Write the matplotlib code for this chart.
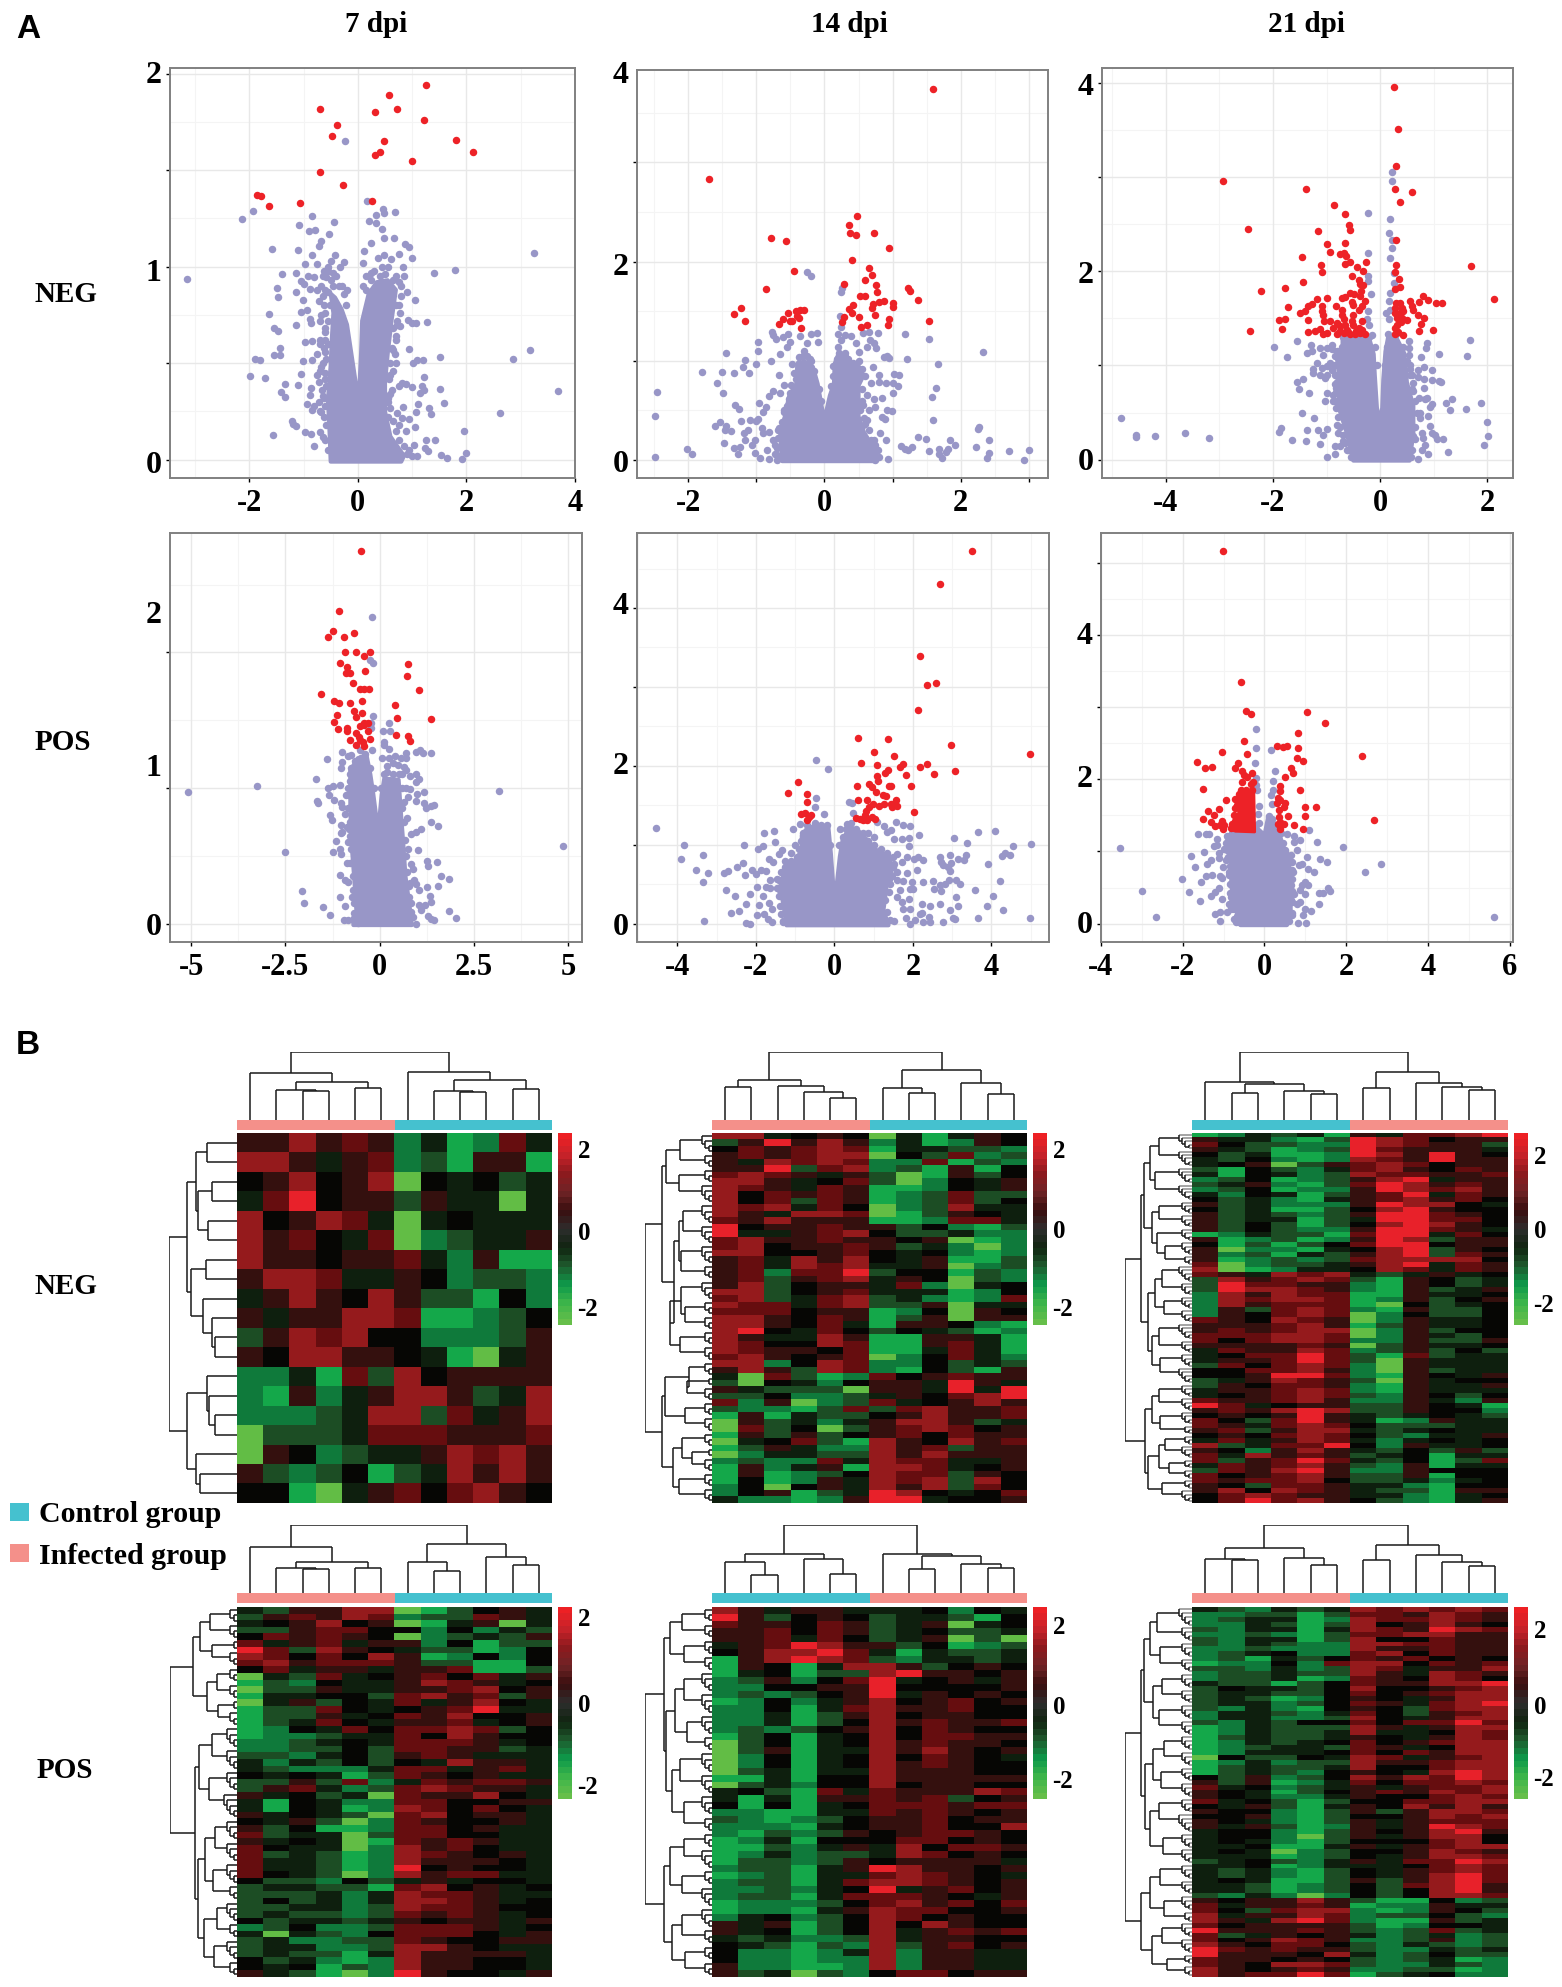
import numpy as np
import matplotlib
matplotlib.use("Agg")
import matplotlib.pyplot as plt
from matplotlib.colors import ListedColormap, LinearSegmentedColormap
from matplotlib.patches import Rectangle

W, H = 1562, 1987
SERIF = "Liberation Serif"
SANS = "Liberation Sans"
BLUE = "#9896C7"
RED = "#ED2227"
TEAL = "#45C1CF"
PINK = "#F4908A"

# ---------- volcano data: (log2FC, -log10 p) ----------
neg7_red = [(1.26,1.94),(.57,1.89),(.73,1.82),(.31,1.80),(-.70,1.82),(1.21,1.76),(-.39,1.735),(-.47,1.68),(.49,1.65),(1.81,1.655),(2.12,1.595),(.40,1.593),(.32,1.58),(1.0,1.547),(-.69,1.493),(-.27,1.422),(-1.86,1.372),(-1.78,1.367),(-1.64,1.317),(-1.06,1.33),(.26,1.343)]
neg7_blue = [(-.24,1.652),(.16,1.343),(-1.94,1.29),(-2.13,1.246),(-.84,1.263),(-.43,1.232),(-1.08,1.215),(-.9,1.187),(-.78,1.189),(-.54,1.171),(.46,1.298),(.69,1.285),(.33,1.266),(.49,1.277),(.21,1.237),(.33,1.228),(.44,1.197),(.49,1.15),(.66,1.147),(.24,1.123),(.86,1.12),(.94,1.104),(1.0,1.043),(.76,1.064),(.61,1.04),(.38,1.045),(.49,1.059),(.11,1.08),(.1,1.02),(1.41,.967),(1.79,.983),(3.24,1.069),(-3.14,.938),(-1.59,1.09),(-1.11,1.087),(-.68,1.133),(-.71,1.107),(-.84,1.059),(-.98,1.016),(-.76,1.016),(-.42,1.06),(-.26,1.022),(-1.4,.962),(-1.13,.97),(-.91,.953),(-.8,.948),(-.59,.948),(-1.05,.926),(-1,.912),(-1.48,.888),(-1.47,.844),(-1.14,.87),(-.89,.886),(-1.01,.829),(-1.64,.753),(-1.04,.765),(-.94,.778),(-.89,.73),(-1.55,.682),(-1.47,.666),(-1.13,.70),(-.87,.706),(-.97,.611),(-.84,.616),(-1.44,.581),(-1.54,.545),(-1.44,.54),(-1.9,.522),(-1.81,.519),(-1.01,.512),(-.84,.516),(-1.99,.436),(-1.71,.422),(-1.05,.446),(-.76,.438),(-1.34,.393),(-1.11,.388),(-1.41,.349),(-1.34,.325),(-.87,.372),(-.89,.337),(-.93,.291),(-.8,.28),(-.85,.256),(-.67,.246),(-1.22,.199),(-1.19,.185),(-1.14,.175),(-1.56,.13),(-.98,.144),(-.86,.135),(-.81,.073),(-.7,.144),(1.06,.825),(.91,.87),(.92,.723),(.99,.709),(1.08,.706),(1.27,.711),(.77,.692),(.94,.576),(1.52,.533),(1.01,.502),(1.09,.516),(1.2,.517),(2.86,.524),(3.18,.569),(3.68,.358),(1.22,.431),(.82,.396),(.89,.391),(1,.379),(1.19,.384),(1.21,.363),(1.15,.346),(1.51,.367),(1.59,.296),(1.31,.268),(1.34,.235),(1.11,.287),(1.07,.246),(.84,.273),(.72,.242),(2.61,.24),(.81,.215),(.95,.213),(1.06,.17),(.89,.15),(1.96,.147),(1.43,.102),(1.26,.1),(1.03,.078),(1.23,.06),(1.29,.043),(1.54,.022),(1.65,.007),(2.0,.036),(1.91,.003),(1.09,.017),
 (-.62,.98),(-.55,1.0),(-.5,1.03),(-.45,.97),(-.33,1.0),(-.68,.9),(-.6,.88),(-.72,.82),(-.62,.8),(-.7,.72),(-.6,.66),(-.7,.62),(-.6,.56),(-.65,.5),(-.7,.46),(-.6,.42),(-.66,.36),(-.62,.32),(-.72,.3),(-.6,.62),(-.35,.9),(-.2,.88),(-.22,.8),(.15,.88),(.25,.97),(.45,1.0),(.55,1.0),(.7,.95),(.8,.9),(.85,.95),(.83,1.0),(.75,.8),(.72,.7),(.7,.62),(.65,.57),(.7,.5),(.6,.44),(.75,.38),(.6,.34),(.55,.3),(.75,.18),(.6,.05)]
neg7_edge = [(-.55,.05),(-.6,.1),(-.65,.12),(-.58,.18),(-.62,.22),(-.7,.25),(-.6,.28),(-.65,.33),(-.58,.38),(-.72,.4),(-.6,.45),(-.68,.48),(-.58,.52),(-.75,.55),(-.62,.58),(-.55,.6),(-.7,.6),(-.6,.68),(-.55,.72),(-.68,.75),(-.6,.76),(-.52,.8),(-.65,.85),(-.55,.87),(-.45,.9),(-.75,.88),(-.5,.93),(-.4,.95),(-.3,.9),(-.25,.86),(-.65,.95),(-.55,.98),(.1,.9),(.15,.95),(.25,.93),(.3,.98),(.4,.95),(.5,.96),(.65,.93),(.75,.92),(.8,.85),(.7,.8),(.78,.76),(.72,.72),(.65,.68),(.7,.64),(.62,.58),(.68,.55),(.6,.5),(.65,.46),(.58,.42),(.62,.36),(.55,.32),(.6,.27),(.55,.22),(.65,.2),(.7,.15),(.75,.1),(.85,.07),(.95,.05),(1.0,.02),(.7,.04),(.6,.09),(.9,.03)]
neg7_core = [(-.5,-.01),(-.52,.14),(-.55,.31),(-.5,.49),(-.48,.62),(-.45,.76),(-.5,.86),(-.42,.84),(-.3,.78),(-.2,.7),(-.12,.55),(-.03,.38),(.03,.38),(.06,.55),(.08,.72),(.2,.86),(.35,.92),(.55,.93),(.7,.88),(.62,.72),(.55,.55),(.5,.4),(.5,.25),(.6,.12),(.85,.02),(.8,-.01)]

neg14_red = [(1.60,3.74),(-1.69,2.83),(.48,2.46),(.36,2.37),(.38,2.29),(.46,2.27),(.73,2.29),(-.79,2.24),(-.57,2.21),(.95,2.14),(.40,2.02),(-.45,1.91),(.66,1.94),(.70,1.86),(.60,1.81),(.29,1.77),(.75,1.76),(-.86,1.72),(1.23,1.73),(1.25,1.70),(.77,1.69),(.52,1.65),(.60,1.65),(1.37,1.61),(.88,1.605),(.80,1.59),(.71,1.57),(1.0,1.585),(1.01,1.54),(.70,1.53),(.42,1.565),(.36,1.52),(.40,1.48),(-1.22,1.535),(-1.33,1.47),(-1.16,1.405),(-.53,1.48),(-.42,1.505),(-.36,1.515),(-.30,1.51),(-.40,1.45),(-.37,1.43),(-.61,1.42),(-.67,1.37),(-.51,1.40),(-.48,1.40),(-.35,1.33),(.28,1.445),(.26,1.395),(.50,1.44),(.74,1.465),(.95,1.42),(.93,1.36),(1.54,1.405),(.62,1.365),(.53,1.34)]
neg14_blue = [(-.25,1.90),(-.2,1.85),(.26,1.73),(.24,1.69),(.23,1.45),(.25,1.34),(-.77,1.29),(-.75,1.26),(-.71,1.22),(-.98,1.19),(-.97,1.10),(-1.44,1.08),(-.65,1.07),(-.79,1.0),(-1.17,1.01),(-1.2,.94),(-1.0,.97),(-1.11,.88),(-1.32,.88),(-1.51,.89),(-1.8,.886),(-1.58,.776),(-1.49,.676),(-2.46,.686),(-2.48,.44),(-2.48,.03),(-2.02,.11),(-1.94,.064),(-1.31,.56),(-1.26,.515),(-.96,.58),(-1.61,.344),(-1.53,.38),(-1.45,.34),(-1.46,.30),(-1.37,.29),(-1.47,.174),(-1.33,.12),(-1.24,.137),(-1.27,.057),(-1.22,.395),(-1.09,.405),(-1.01,.39),(-.97,.41),(-1.12,.30),(-1.18,.274),(-1.16,.2),(-1.02,.207),(-1.06,.157),(-1.02,.074),(-.91,.32),(-.9,.274),(-.82,.288),(-.95,.017),(-.82,.013),(-.7,.003),(-.9,.48),(-.86,.54),(-.82,.65),(-.76,.70),(-.66,.86),(-.6,.76),(-.49,.76),(-.65,.675),(-.61,1.24),(-.53,1.27),(-.51,1.19),(-.36,1.25),(-.55,1.14),(-.2,1.27),(-.11,1.28),(-.09,1.19),(-.26,1.18),(-.3,1.10),(-.38,1.04),(-.21,1.02),(-.48,.97),(.2,1.27),(.3,1.26),(.39,1.25),(.57,1.28),(.66,1.29),(.78,1.28),(1.18,1.27),(1.53,1.22),(2.32,1.09),(.67,1.21),(.73,1.18),(.76,1.13),(.62,1.14),(.24,1.21),(.2,1.14),(.47,1.18),(.5,1.09),(.87,1.04),(.92,1.05),(.95,1.03),(1.21,1.02),(1.66,.97),(.71,.94),(.8,.86),(1.02,.87),(1.1,.86),(.68,.776),(.8,.79),(.9,.776),(1.01,.78),(1.08,.75),(1.01,.676),(1.64,.73),(1.58,.64),(1.59,.405),(.84,.625),(.74,.535),(.92,.51),(.99,.49),(.84,.435),(.89,.41),(.62,.66),(.57,.56),(.55,.34),(.81,.27),(.9,.207),(1.38,.234),(1.49,.217),(1.84,.207),(1.92,.15),(1.13,.14),(1.18,.117),(1.28,.13),(1.23,.107),(1.54,.087),(1.68,.114),(1.68,.057),(1.72,.017),(1.82,.117),(1.78,.08),(2.27,.33),(2.25,.314),(2.42,.204),(2.23,.13),(2.42,.07),(2.39,.02),(2.71,.097),(2.93,.003),(3.0,.1),(.93,.013),(.74,.003),(.74,.157),(.62,.124),(.52,.074),(-.7,.12),(-.75,.2),(-.68,.3),(-.72,.06),(-.6,.5),(-.85,.1),(.68,.2),(.7,.1),(.62,.4),(.66,.5),(.72,.62)]
neg14_edge = [(-.7,.05),(-.72,.15),(-.68,.22),(-.66,.32),(-.62,.38),(-.6,.48),(-.55,.55),(-.52,.62),(-.5,.68),(-.45,.72),(-.42,.82),(-.45,.88),(-.38,.98),(-.32,1.05),(-.25,1.05),(-.2,1.0),(-.15,.9),(-.08,.72),(-.05,.6),(.1,.75),(.12,.85),(.13,.95),(.18,1.02),(.22,1.08),(.3,1.08),(.35,1.02),(.42,.98),(.5,1.0),(.55,.92),(.6,.85),(.55,.72),(.55,.6),(.52,.5),(.58,.42),(.6,.36),(.66,.3),(.72,.2),(.78,.1),(.8,.03)]
neg14_core = [(-.62,-.01),(-.65,.28),(-.58,.44),(-.52,.64),(-.41,.77),(-.4,.94),(-.3,1.0),(-.17,.94),(-.1,.77),(-.03,.5),(0,.38),(.03,.5),(.08,.65),(.14,.77),(.15,.97),(.2,1.06),(.33,1.05),(.38,.95),(.5,.95),(.57,.85),(.5,.75),(.5,.44),(.58,.28),(.76,.08),(.76,-.01)]

neg21_red = [(.25,3.96),(.34,3.51),(.30,3.12),(-2.94,2.96),(-1.38,2.87),(.27,2.88),(.6,2.84),(.38,2.74),(-.86,2.71),(-.65,2.61),(-.58,2.49),(-.56,2.44),(-1.15,2.43),(-2.46,2.45),(.29,2.33),(-.66,2.30),(-1.0,2.29),(-.93,2.21),(-.75,2.18),(-.67,2.19),(-.63,2.16),(-1.45,2.15),(-.57,2.10),(-.66,2.08),(-.27,2.10),(-1.11,2.07),(.3,2.07),(-.43,2.05),(-.32,2.0),(1.7,2.06),(.28,1.99),(-1.09,1.99),(-.53,1.95),(-.39,1.91),(.36,1.92),(-1.44,1.89),(-.37,1.87),(-.31,1.85),(-1.78,1.82),(-2.22,1.79),(.27,1.81),(.37,1.83),(-.36,1.79),(-.56,1.77),(-.48,1.76),(-.65,1.73),(-.71,1.72),(-.37,1.74),(-1.18,1.71),(-.99,1.72),(.8,1.74),(.89,1.70),(.73,1.67),(.56,1.68),(1.04,1.66),(1.16,1.66),(2.13,1.71),(-.28,1.69),(-.53,1.67),(-.34,1.63),(-.5,1.64),(-.4,1.59),(-1.27,1.65),(-1.34,1.63),(-1.4,1.58),(-1.49,1.56),(-1.09,1.63),(-1.09,1.58),(-1.71,1.62),(-.83,1.63),(-1.06,1.54),(-.71,1.59),(-.71,1.54),(-.5,1.54),(.3,1.66),(.37,1.66),(.28,1.61),(.4,1.61),(.28,1.56),(.37,1.56),(.43,1.58),(.31,1.5),(.4,1.5),(.5,1.48),(.31,1.43),(.39,1.46),(.59,1.63),(.62,1.59),(.71,1.54),(.82,1.5),(.76,1.44),(.99,1.38),(.73,1.37),(.42,1.32),(.28,1.4),(.34,1.36),(.28,1.33),(-1.88,1.48),(-1.77,1.49),(-1.84,1.39),(-1.35,1.48),(-1.35,1.36),(-2.42,1.37),(-1.04,1.47),(-.93,1.47),(-.81,1.45),(-.68,1.49),(-.53,1.47),(-.34,1.47),(-.87,1.4),(-.75,1.42),(-.65,1.43),(-.5,1.43),(-.4,1.4),(-1.21,1.37),(-1.13,1.39),(-.99,1.35),(-1.06,1.33),(-.81,1.33),(-.68,1.345),(-.56,1.33),(-.47,1.335),(-.37,1.35),(-.28,1.33),(-.62,1.38),(-.34,1.38),(-.75,1.37),(-.6,1.36),(-.45,1.37)]
neg21_blue = [(.23,3.06),(.23,2.96),(-.22,2.62),(.19,2.56),(.16,2.41),(.23,2.33),(.23,2.25),(-.22,2.19),(.19,2.14),(-.22,1.95),(-.22,1.9),(-.17,1.76),(.25,1.98),(.25,1.88),(.19,1.77),(.16,1.68),(.11,1.56),(.16,1.49),(.19,1.59),(-.22,1.58),(-.25,1.49),(-.2,1.43),(-.16,1.32),(-4.84,.44),(-4.55,.265),(-4.55,.24),(-4.21,.255),(-3.65,.28),(-3.2,.227),(-1.98,1.2),(-1.56,1.26),(-1.73,1.09),(-1.29,1.22),(-1.37,1.13),(-1.27,1.15),(-1.12,1.19),(-.99,1.19),(-.9,1.17),(-1.06,1.115),(-1.18,1.03),(-1.26,.96),(-1.26,.92),(-1.09,.97),(-.99,.99),(-.93,1.03),(-1.12,.9),(-1.02,.87),(-.99,.9),(-1.55,.83),(-1.43,.86),(-1.52,.75),(-1.33,.71),(-.81,.83),(-.83,.76),(-.99,.71),(-.87,.69),(-1.02,.62),(-.87,.62),(-1.45,.5),(-1.24,.44),(-1.85,.336),(-1.88,.294),(-1.37,.32),(-1.16,.31),(-1,.33),(-1.65,.21),(-1.39,.2),(-1.06,.26),(-1.12,.163),(-.99,.025),(-.81,.37),(-.78,.28),(-.84,.14),(-.84,.06),(.53,1.26),(.87,1.24),(.85,1.19),(.53,1.19),(.53,1.115),(.76,1.09),(1.1,1.125),(1.67,1.27),(1.63,1.1),(.7,.95),(.82,.98),(.96,.95),(.56,.96),(1.09,.84),(1.14,.825),(.81,.86),(.71,.88),(.62,.81),(.96,.85),(.81,.76),(.62,.73),(.84,.64),(.88,.655),(.73,.655),(1.35,.64),(1.23,.605),(.96,.595),(1.3,.53),(1.6,.54),(1.89,.605),(.75,.495),(.93,.56),(.9,.467),(.75,.44),(.93,.354),(.96,.283),(1.02,.265),(1.06,.22),(1.17,.22),(2.0,.4),(2.01,.25),(1.93,.152),(1.27,.08),(.9,.057),(.84,.152),(.78,.106),(.71,.007),(.78,.28),(.8,.23),(.62,.25),(-.9,1.22),(-.8,1.15),(-.85,1.1),(.55,1.0),(.6,.9),(-.9,.95),(-.85,.9),(-.7,.2),(-.75,.15),(-.6,.1)]
neg21_edge = [(-.55,.03),(-.62,.1),(-.65,.18),(-.7,.26),(-.75,.35),(-.78,.45),(-.82,.55),(-.85,.62),(-.82,.72),(-.85,.8),(-.82,.9),(-.85,1.0),(-.78,1.08),(-.72,1.2),(-.7,1.3),(-.55,1.32),(-.4,1.32),(-.2,1.3),(-.1,1.2),(-.06,1.0),(.1,1.0),(.12,1.2),(.15,1.33),(.3,1.33),(.42,1.2),(.5,1.05),(.55,.9),(.6,.75),(.65,.62),(.68,.5),(.66,.35),(.65,.22),(.6,.1),(.58,.03)]
neg21_core = [(-.5,-.01),(-.62,.28),(-.78,.57),(-.75,.81),(-.8,1.06),(-.7,1.15),(-.7,1.28),(-.4,1.31),(-.2,1.28),(-.12,1.12),(-.1,.9),(-.06,.55),(0,.4),(.04,.55),(.06,.85),(.1,1.15),(.15,1.3),(.3,1.3),(.45,1.13),(.5,.82),(.62,.57),(.62,.28),(.55,-.01)]

pos7_red = [(-.49,2.75),(-1.07,2.305),(-1.25,2.16),(-1.36,2.11),(-.96,2.11),(-.68,2.14),(-.93,2.0),(-.62,2.0),(-.27,2.0),(-.43,1.97),(-1.06,1.92),(-.88,1.89),(-.9,1.845),(-.79,1.85),(-.4,1.865),(.74,1.915),(.71,1.825),(1.04,1.725),(-.71,1.775),(-.53,1.73),(-.43,1.727),(-.28,1.73),(-1.55,1.69),(-1.21,1.64),(-1.09,1.63),(-.79,1.625),(-.47,1.643),(.41,1.614),(-.69,1.57),(-1.14,1.54),(-.47,1.55),(-.63,1.52),(.45,1.513),(1.36,1.51),(-1.2,1.486),(-.41,1.48),(-.3,1.48),(-.53,1.46),(-.43,1.464),(-1.11,1.437),(-.87,1.44),(-.87,1.42),(-.3,1.42),(-.63,1.407),(.43,1.392),(.75,1.385),(-.56,1.378),(-.78,1.353),(-.53,1.353),(-.26,1.363),(-.45,1.34),(.8,1.348),(-.63,1.316),(-.43,1.31)]
pos7_blue = [(-.21,2.26),(-.25,1.943),(-.18,1.92),(-.19,1.53),(-.22,1.476),(-.22,1.44),(.25,1.478),(.08,1.417),(.26,1.422),(.1,1.343),(.12,1.32),(.24,1.29),(-1,1.267),(-.53,1.28),(-.2,1.284),(-1.39,1.213),(1.06,1.284),(.95,1.262),(1.14,1.255),(1.35,1.26),(.69,1.255),(-.83,1.235),(-.75,1.242),(-.99,1.193),(-1.04,1.144),(.06,1.225),(.24,1.225),(.41,1.235),(.57,1.225),(.69,1.218),(.18,1.161),(.34,1.181),(.49,1.168),(.64,1.156),(.69,1.132),(-1.7,1.063),(-1.36,1.0),(-1.24,1.013),(-1.06,1.02),(-3.25,1.016),(-5.07,.972),(3.17,.977),(4.86,.576),(-2.51,.529),(.95,1.107),(.81,1.09),(1.05,1.07),(.95,1.045),(1.18,.969),(.79,.996),(.98,.959),(.74,.935),(.95,.903),(1.18,.886),(1.22,.856),(1.35,.866),(1.44,.873),(-1.67,.903),(-1.65,.886),(-1.34,.947),(-1.22,.91),(-1.04,.886),(-.99,.861),(-1.32,.8),(-1.27,.768),(-.93,.812),(-1.04,.726),(-.99,.677),(-1.04,.669),(-.88,.713),(-1.17,.61),(-1.06,.554),(-1.23,.526),(-1.04,.512),(-.88,.45),(1.36,.75),(1.55,.72),(1.1,.7),(.95,.677),(.84,.664),(1,.546),(1.24,.462),(1.28,.423),(1.51,.453),(.84,.443),(.89,.406),(1.62,.352),(1.84,.327),(1.55,.278),(1.26,.268),(1.05,.251),(.91,.325),(.97,.29),(1.32,.202),(1.37,.16),(1.05,.135),(1.2,.14),(1.1,.103),(1.28,.054),(1.35,.037),(1.45,.025),(1.83,.091),(2.03,.039),(-1.05,.359),(-.93,.325),(-.83,.307),(-1.06,.197),(-.93,.13),(-.73,.197),(-1.5,.123),(-1.32,.064),(-2.06,.244),(-2,.153),(-.96,.025),(-.83,.025),(-.68,.044),(-.58,.007),(.95,0),(.84,.086),(.74,.172),(-.8,1.1),(-.85,1.0),(-.9,.95),(-.85,.85),(-.82,.7),(-.85,.6),(.6,1.1),(.7,1.0),(.65,.9),(.72,.78),(.75,.55),(.8,.3),(.78,.2)]
pos7_edge = [(-.72,.03),(-.68,.08),(-.68,.15),(-.72,.25),(-.72,.35),(-.78,.45),(-.75,.55),(-.8,.65),(-.8,.75),(-.82,.85),(-.82,.95),(-.8,1.05),(-.75,1.15),(-.65,1.2),(-.5,1.22),(-.38,1.25),(-.25,1.15),(-.15,1.0),(.03,1.0),(.1,1.1),(.2,1.12),(.35,1.1),(.5,1.1),(.58,1.0),(.58,.85),(.65,.75),(.68,.62),(.7,.5),(.72,.38),(.78,.28),(.82,.15),(.88,.05)]
pos7_core = [(-.7,-.01),(-.62,.1),(-.68,.35),(-.75,.6),(-.78,.84),(-.78,1.13),(-.58,1.22),(-.35,1.24),(-.25,1.1),(-.17,.95),(-.1,.8),(-.05,.58),(0,.5),(0,.8),(.05,.95),(.12,1.07),(.5,1.06),(.55,.85),(.62,.6),(.68,.35),(.78,.15),(.85,-.01)]

pos14_red = [(3.51,4.72),(2.70,4.30),(2.18,3.39),(2.37,3.02),(2.60,3.05),(2.14,2.71),(.6,2.355),(1.36,2.335),(2.97,2.266),(4.99,2.15),(1,2.18),(1.51,2.12),(.67,2.04),(1.09,2.01),(1.66,1.99),(1.75,2.02),(2.17,1.98),(2.36,2.02),(1.37,1.945),(1.29,1.91),(1.82,1.886),(2.54,1.9),(3.07,1.93),(1.09,1.873),(1.12,1.814),(.58,1.742),(.88,1.776),(.95,1.734),(1.06,1.674),(1.38,1.75),(1.44,1.746),(1.96,1.746),(-.92,1.793),(-1.18,1.662),(-.71,1.64),(-.7,1.548),(1.24,1.632),(1.32,1.615),(.6,1.573),(.82,1.573),(1.58,1.573),(.98,1.514),(1.13,1.497),(1.27,1.514),(1.44,1.522),(1.59,1.488),(1.46,1.48),(.87,1.48),(2.03,1.416),(.81,1.425),(.78,1.374),(-.85,1.39),(-.74,1.404),(-.59,1.374),(-.64,1.353),(-.71,1.32),(.54,1.345),(.66,1.332),(.74,1.32),(.84,1.31),(.97,1.353),(1.04,1.332)]
pos14_blue = [(-.48,2.08),(-.16,1.958),(-.48,1.594),(-.49,1.476),(-.26,1.387),(.37,1.543),(.46,1.535),(.47,1.404),(-4.55,1.213),(-3.84,1.0),(-3.36,.875),(-3.9,.825),(-3.52,.68),(-3.22,.647),(-3.36,.529),(-2.3,1.0),(-2.72,.672),(-2.81,.643),(-2.49,.719),(-2.34,.765),(-2.11,.685),(-2.28,.62),(-1.8,1.154),(-1.53,1.175),(-1.51,1.04),(-1.83,.98),(-1.95,.951),(-1.34,.93),(-1.41,.888),(-.91,.951),(-1.05,1.197),(-.88,1.268),(-1.66,.825),(-1.56,.778),(-1.87,.685),(-1.73,.668),(-2,.626),(-2.76,.427),(-2.52,.347),(-2.24,.254),(-2.64,.135),(-2.44,.165),(-3.32,.034),(-2.15,.38),(-1.97,.465),(-1.81,.351),(-1.73,.465),(-1.64,.558),(-1.63,.452),(-1.93,.233),(-1.98,.106),(-1.8,.118),(-1.66,.262),(-1.6,.182),(-2.26,.008),(-2.14,0),(-1.68,.063),(-1.6,.02),(-1.3,.02),(-1.47,.57),(-1.39,.423),(-1.3,.338),(.14,1.197),(.31,1.268),(1.08,1.29),(1.27,1.24),(1.56,1.29),(1.76,1.256),(1.93,1.235),(2.15,1.12),(1.34,1.163),(1.44,1.184),(1.89,1.09),(1.91,.98),(1.51,1.07),(1.72,1.074),(3.06,1.09),(3.66,1.163),(4.1,1.175),(3.37,1.023),(5,1.006),(4.54,.98),(1.59,.888),(1.85,.846),(2.02,.825),(2.14,.846),(2.27,.803),(1.72,.782),(1.51,.761),(2.7,.846),(2.94,.871),(2.72,.782),(2.78,.74),(2.89,.719),(2.97,.774),(2.95,.668),(3.35,.871),(3.31,.803),(3.14,.825),(4.28,.854),(4.36,.896),(4.48,.871),(3.91,.761),(2.11,.68),(1.59,.655),(1.85,.643),(1.38,.571),(1.59,.55),(1.76,.541),(1.97,.529),(2.26,.524),(2.51,.541),(2.91,.558),(3.09,.558),(3.19,.507),(2.68,.486),(2.83,.499),(2.53,.436),(2.72,.414),(4.22,.537),(3.59,.427),(4.04,.347),(3.1,.338),(1.68,.423),(1.93,.444),(2,.444),(1.91,.309),(1.72,.275),(1.59,.338),(2.23,.245),(2.44,.224),(2.68,.254),(3.14,.22),(3.89,.224),(4.3,.173),(2.94,.173),(1.93,.19),(1.76,.19),(2.23,.135),(2.19,.118),(2.4,.085),(2.44,.02),(2.25,.017),(2.06,.042),(1.82,.076),(1.93,0),(2.78,.025),(3.02,.068),(3.08,.059),(3.65,.068),(4.98,.072),(1.52,.034)]
pos14_edge = [(-1.3,.03),(-1.35,.12),(-1.38,.22),(-1.42,.35),(-1.45,.45),(-1.4,.55),(-1.35,.65),(-1.25,.72),(-1.25,.8),(-1.1,.8),(-.95,.85),(-.88,.95),(-.85,1.05),(-.8,1.15),(-.7,1.25),(-.5,1.27),(-.35,1.25),(-.2,1.25),(-.1,1.0),(.12,1.0),(.22,1.1),(.3,1.2),(.42,1.28),(.55,1.2),(.72,1.15),(.85,1.05),(1.0,1.0),(1.2,.95),(1.35,.9),(1.5,.85),(1.5,.72),(1.48,.6),(1.42,.5),(1.38,.4),(1.3,.3),(1.35,.15),(1.42,.05),(1.0,1.1),(.85,1.15),(-1.1,.9),(-1.0,1.0)]
pos14_core = [(-1.22,-.02),(-1.3,.25),(-1.39,.46),(-1.22,.76),(-1.05,.76),(-.83,.93),(-.83,1.12),(-.66,1.23),(-.15,1.21),(-.09,.89),(-.03,.49),(.06,.49),(.14,.85),(.21,1.06),(.4,1.23),(.65,1.16),(1.08,.93),(1.42,.85),(1.46,.63),(1.33,.47),(1.25,.17),(1.38,-.02)]

pos21_red = [(-1.02,5.16),(-.57,3.34),(-.45,2.94),(-.32,2.91),(1.04,2.93),(1.49,2.78),(.82,2.64),(-.51,2.53),(.31,2.46),(.45,2.45),(.54,2.465),(.82,2.43),(-1.03,2.38),(-.44,2.345),(2.38,2.32),(.79,2.3),(.94,2.25),(-1.66,2.24),(-1.45,2.15),(-1.28,2.165),(-.65,2.225),(-.73,2.156),(-.54,2.11),(-.3,2.087),(.64,2.156),(.69,2.087),(.51,2.03),(-.51,2.055),(-.42,2.03),(-.55,1.967),(-.34,1.94),(-.29,1.96),(.37,1.907),(.37,1.837),(-1.5,1.865),(.87,1.847),(.34,1.745),(.38,1.717),(.31,1.67),(.51,1.676),(-.95,1.717),(1,1.616),(1.25,1.61),(.47,1.616),(-1.39,1.56),(-1.12,1.584),(-1.24,1.505),(-1.5,1.445),(-1.31,1.404),(.98,1.496),(.58,1.49),(.35,1.477),(.36,1.57),(2.67,1.43),(-1.22,1.348),(-1.03,1.42),(-1.1,1.362),(-1,1.362),(-.8,1.376),(.39,1.408),(.47,1.385),(.33,1.385),(.38,1.316),(.72,1.362),(.95,1.316),(-1.02,1.307),(-.81,1.325),(-.72,1.72),(-.62,1.8),(-.72,1.6),(-.74,1.5),(-.72,1.42),(-.75,1.32),(-.58,1.85),(-.45,1.85),(-.3,1.85),(-.68,1.65)]
pos21_red_block = [(-.69,1.71),(-.55,1.82),(-.26,1.82),(-.24,1.27),(-.71,1.28),(-.75,1.36),(-.63,1.54)]
pos21_blue = [(-.22,2.696),(-.22,2.433),(-.23,2.23),(.17,2.405),(.26,2.114),(-.21,2.018),(-.2,1.916),(-.18,1.847),(.2,1.976),(.22,1.847),(.16,1.787),(.19,1.653),(-.14,1.625),(-.15,1.514),(-.14,1.394),(.11,1.49),(.15,1.408),(-3.54,1.053),(-2.99,.452),(-2.65,.097),(-1.62,1.237),(-1.44,1.237),(-1.36,1.237),(-1.48,.988),(-1.79,.933),(-1.69,.79),(-1.4,.831),(-1.31,.877),(-2.03,.614),(-1.84,.434),(-1.56,.577),(-1.44,.656),(-1.28,.674),(-1.57,.31),(-1.16,1.177),(-1.24,1.071),(-1.16,1.085),(-1,1.034),(-1.12,.979),(-1.12,.914),(-.95,.877),(-1.01,.785),(-.87,.716),(-1.08,.656),(-1.04,.637),(-1.12,.499),(-1.2,.439),(-1.31,.379),(-1.05,.346),(-.81,.369),(-.87,.277),(-.79,.286),(-.83,.208),(-1.2,.139),(-1.08,.162),(-.91,.162),(-1.09,.037),(-.75,.069),(-.69,.023),(.56,1.237),(.73,1.21),(.72,1.131),(.86,1.154),(.8,1.025),(1.29,1.131),(1.91,1.062),(1.08,1.293),(1.04,.923),(1.35,.891),(1.53,.849),(2.86,.822),(2.46,.716),(.64,.946),(.68,.854),(.84,.808),(.92,.822),(1.06,.762),(1.21,.72),(.7,.716),(1,.577),(1.07,.54),(.88,.462),(.92,.531),(1.33,.429),(1.43,.425),(1.55,.494),(1.6,.452),(1,.416),(.88,.3),(.8,.277),(1.33,.277),(1,.208),(1.13,.171),(.94,.115),(.82,.014),(1.02,.014),(5.61,.088),(.64,.531),(.72,.416),(.64,.323),(.68,.115)]
pos21_edge = [(-.62,.02),(-.68,.1),(-.75,.2),(-.8,.3),(-.85,.42),(-.85,.55),(-.88,.68),(-.85,.8),(-.9,.92),(-.92,1.02),(-.95,1.12),(-.92,1.22),(-.8,1.26),(-.7,1.26),(-.2,1.36),(.1,1.48),(.18,1.45),(.3,1.35),(.4,1.25),(.45,1.12),(.5,1.02),(.55,.95),(.62,.85),(.68,.75),(.68,.62),(.68,.45),(.68,.3),(.68,.15),(.6,.03)]
pos21_core = [(-.59,-.02),(-.71,.23),(-.81,.51),(-.82,.83),(-.91,1.11),(-.91,1.22),(-.59,1.27),(-.22,1.34),(-.08,1.27),(-.06,1.02),(0,.9),(.02,1.02),(.01,1.25),(.08,1.45),(.19,1.43),(.35,1.29),(.43,1.11),(.6,.88),(.64,.51),(.64,.18),(.55,-.02)]

# ---------- heatmap data: one digit per cell, 0 = strongest green ... 9 = strongest red ----------
heat_neg7 = ["668676241274","886467231661","568568054534","479566364404","856874045444","867547023446","866566742611","688744652332","468658633152","646688711235","368785522236","658866541046","224173856666","216246886348","222348837468","033347776667","065234468786","632351348686","551046757865"]
heat_neg14 = ["884565041465","369686241265","576787144332","676788053723","648787227132","669378231615","787646301635","886457302546","876476112546","857676123733","857376123735","878475023844","864887013654","768666112774","956676635213","944678533422","786676656012","785667634202","885567545212","674868546113","674878446023","672779355132","673678465032","683566472045","883567444125","783478342127","877478336044","777566125065","886576136066","886574166521","895475354312","864486116641","875587116741","876657114741","786567025742","882587225343","686387215316","407312756766","305425664964","643330664949","335223465789","726023745686","322137378667","161433568667","063424688634","073503678756","163635675766","045731865867","136422867366","024433868666","232274877446","162461887456","161235877365","151264878385","250564868375","256134985457","422126994556"]
heat_neg21 = ["124341647789","644213987566","753322987663","643123976664","534112986965","435212876966","456036787566","315324786576","415423877667","235123689466","346213798676","235122698786","425413679476","534214678675","634222698854","534113589655","634323699765","634413499775","635313589865","635322699764","124331799475","612312698366","513135799566","602214589365","623143689376","612323788885","702334689476","801244587476","764878434645","386787316534","397766216534","398876216346","286877116445","287887126356","286777105345","263787216335","265787025335","765876026445","666786136445","676788026355","777887026435","757887226336","666676036445","476687236353","457797317344","466797306444","375787206444","557786206344","556997216546","346876306455","365776216446","466787216444","456787326535","766786226426","974566336541","676898336552","565696434543","753796412644","764787533344","673688434544","565787532446","474687424545","834779526445","652686435363","748676345144","736797435137","476786326144","376896226555","756786336155","767785334245","653776442155","685876433166","578766442145","579786532146"]
heat_pos7 = ["436688013564","367687233764","456856014604","336775525243","576765023436","746746625133","973865433125","875758612525","786777633115","574664667113","043745675746","132544687645","033644667856","144553786736","046354746854","133754567944","133645768556","134754667456","125475778735","122344758655","223454777645","223353776634","332453676444","424353548664","432224774674","545413765644","336372476776","367423787664","645340766854","415422775566","415412875754","645430785664","546302765564","635112775644","734403775544","645401767644","754402867544","734312876564","744312866654","744312956554","754302867744","533253464554","344331785645","333424877644","353424887645","334423877655","343323767645","534434656646","235223777645","404325777546","342233765566","344223886544","343314866664","534212866554","545132866554","643102965546"]
heat_pos14 = ["864664445254","963565344315","766576346045","667576345334","667475346030","467986635123","568897414334","168987324434","165148863565","145133896656","236257945646","225566955556","232356946565","125246856756","225147866755","224136856655","224135867667","232356857655","135145857766","035145867665","036144868656","025145857654","025145867655","034144866655","114155866666","034255856655","453174766687","414166767356","515145777677","221144767656","321235667566","222145667558","213236567765","124155577565","113246485776","124233487565","133236566664","233146986656","123144787654","233147887656","223245946756","233147776546","122235786757","122146877556","245235875655","646135858655","645135846767","434223846655","543132836756","522124826644","522122826644","622112826644","634032577566"]
heat_pos21 = ["432434878787","223313776876","234412877876","224313856865","324414876987","223213778866","324413855766","324322887766","223222866766","234522785766","231435767565","122527885767","332423874668","233433864876","233412765875","433135766889","354435855678","344335756788","343125654688","344235764789","324215653788","244324753678","244223854688","324355757797","124333864688","124334844587","134334654687","124345756788","123443764588","124445757688","053354874678","124233866788","134334855788","134325654898","536235868798","636124757787","745234646778","654135676878","654224655787","745313557788","546314658686","655213636887","556213556878","654213646777","646312646987","455213656896","455203646885","454213555785","445114646788","454023556876","444123546887","345324647798","445124445787","434213546787","434213546897","454113636897","443123537896","443123535896","324202535887","656686311523","746676122644","753788212653","846687233532","864897211634","756666312554","966676323734","734656423423","756876223623","865775324323","976766322434","966658423533","766565323412","765887322432","865676223312","867797134522"]

# ---------- dendrograms: nested (height, left, right); an int n is a run of n neighbouring leaves ----------
cols_neg7 = (1.0,(.69,1,(.565,(.44,1,(.425,1,1)),(.475,1,1))),(.70,1,(.585,(.425,1,(.41,1,1)),(.46,1,1))))
cols_neg14 = (1.0,(.59,(.49,1,1),(.505,1,(.41,1,(.33,1,1)))),(.74,(.465,1,(.39,1,1)),(.55,1,(.38,1,1))))
cols_neg21 = (1.0,(.56,1,(.53,(.40,1,1),(.43,1,(.38,1,1)))),(.70,(.465,1,1),(.545,1,(.48,1,(.44,1,1)))))
cols_pos7 = (1.0,(.67,1,(.46,(.366,1,(.36,1,1)),(.375,1,1))),(.72,(.45,1,(.33,1,1)),(.535,1,(.415,1,1))))
cols_pos14 = (1.0,(.58,(.46,1,(.27,1,1)),(.5,1,(.285,1,1))),(.58,1,(.55,(.35,1,1),(.42,1,(.37,1,1)))))
cols_pos21 = (1.0,(.655,(.5,1,(.48,1,1)),(.52,1,(.41,1,1))),(.70,(.48,1,1),(.555,1,(.46,1,(.4,1,1)))))

rows_neg7 = (1.0,(.73,(.6,(.445,1,1),(.58,(.37,1,1),(.42,1,1))),(.67,(.455,1,1),(.495,1,(.37,1,(.33,1,1))))),(.73,(.445,1,(.41,1,(.33,1,1))),(.61,1,(.55,1,1))))
rows_neg14 = (1.0,(.74,(.68,(.48,4,3),(.5,3,4)),(.57,(.5,(.44,4,4),(.46,4,3)),(.62,(.46,4,(.4,3,3)),(.48,3,3)))),(.75,(.7,(.35,3,(.37,2,3)),(.4,3,3)),(.58,(.45,3,(.3,2,3)),(.5,3,3))))
rows_neg21 = (1.0,(.76,(.72,(.62,(.5,5,5),(.55,5,5)),(.6,(.5,4,4),(.52,4,(.4,4,3)))),(.66,(.55,(.45,5,4),(.42,4,4)),(.6,(.5,5,4),(.48,4,5)))),(.7,(.6,(.5,4,4),(.48,4,3)),(.66,(.5,(.4,3,4),(.35,3,3)),(.45,3,4))))
rows_pos7 = (1.0,(.65,(.55,(.4,3,3),(.37,2,3)),(.45,(.3,3,3),(.28,2,3))),(.62,(.56,(.38,4,4),(.42,4,5)),(.58,(.48,(.33,4,4),(.36,4,3)),(.5,(.3,4,3),(.34,4,3)))))
rows_pos14 = (1.0,(.72,(.62,(.45,3,3),(.42,3,3)),(.68,(.55,(.42,4,4),(.37,4,3)),(.6,(.48,4,4),(.42,4,3)))),(.72,(.62,(.42,3,4),(.45,3,4)),(.6,(.45,4,3),(.4,3,3))))
rows_pos21 = (1.0,(.76,(.72,(.62,(.52,5,4),(.48,4,4)),(.58,(.45,4,4),(.5,4,4))),(.7,(.58,(.42,4,4),(.46,4,4)),(.62,(.5,4,5),(.44,4,4)))),(.76,(.62,(.48,4,4),(.42,4,3)),(.6,(.45,4,4),(.38,3,3))))

# ---------- group order along the top of each heatmap ----------
order_pink_first = [PINK, TEAL]
order_teal_first = [TEAL, PINK]

HEAT_COLOURS = ["#62BD45","#14A84A","#0F7A3B","#1C4D24","#0E1F0E","#060604","#34100E","#660D0F","#951A1C","#E8212A"]
BAR_COLOURS = ["#ED2024","#C8232A","#8E1A1E","#6F2426","#3A0E0F","#2E2E2E","#102410","#1F5A2D","#0E9A4A","#3DB54A","#66BF4A"]
heat_cmap = ListedColormap(HEAT_COLOURS)
bar_cmap = LinearSegmentedColormap.from_list("bar", list(reversed(BAR_COLOURS)), N=30)

fig = plt.figure(figsize=(W / 100, H / 100), dpi=100, facecolor="white")


def px_axes(x0, y0, x1, y1, **kw):
    return fig.add_axes([x0 / W, 1 - y1 / H, (x1 - x0) / W, (y1 - y0) / H], **kw)


def ftext(x, y, s, **kw):
    kw.setdefault("family", SERIF)
    kw.setdefault("weight", "bold")
    kw.setdefault("color", "black")
    kw.setdefault("va", "center")
    kw.setdefault("ha", "center")
    fig.text(x / W, 1 - y / H, s, **kw)


def volcano(box, xlim, ylim, xmaj, xmin, xlab, ymaj, ymin, ylab, blue, edge, red, core, block=None):
    ax = px_axes(*box)
    ax.set_xlim(*xlim)
    ax.set_ylim(*ylim)
    ax.set_axisbelow(True)
    for v in xmin:
        ax.axvline(v, color="#F4F4F4", lw=.8, zorder=0)
    for v in ymin:
        ax.axhline(v, color="#F4F4F4", lw=.8, zorder=0)
    for v in xmaj:
        ax.axvline(v, color="#E8E8E8", lw=1, zorder=0)
    for v in ymaj:
        ax.axhline(v, color="#E8E8E8", lw=1, zorder=0)
    cx, cy = zip(*core)
    ax.fill(cx, cy, color=BLUE, lw=3, joinstyle="round", zorder=2)
    bx, by = zip(*(blue + edge))
    ax.scatter(bx, by, s=29, color=BLUE, linewidths=0, zorder=2)
    rx, ry = zip(*red)
    ax.scatter(rx, ry, s=29, color=RED, linewidths=0, zorder=3)
    if block:
        kx, ky = zip(*block)
        ax.fill(kx, ky, color=RED, lw=2, joinstyle="round", zorder=3)
    ax.set_xticks(xmaj)
    ax.set_xticklabels([xlab.get(v, "") for v in xmaj], family=SERIF, weight="bold", fontsize=22)
    ax.set_yticks(ymaj)
    ax.set_yticklabels([])
    ax.tick_params(length=3, width=1, color="black", pad=5)
    for s in ax.spines.values():
        s.set_color("#808080")
        s.set_linewidth(1.4)
    for v, s in ylab:
        ax.annotate(s, xy=(0, v), xycoords=("axes fraction", "data"), xytext=(-6, -1.5),
                    textcoords="offset points", ha="right", va="center",
                    family=SERIF, weight="bold", fontsize=23)
    return ax


def lab(vals):
    return {v: str(v) for v in vals}


volcano((170, 68, 575, 478), (-3.46, 4.0), (-.095, 2.03), [-2, 0, 2, 4], [-3, -1, 1, 3],
        lab([-2, 0, 2, 4]), [0, .5, 1, 1.5, 2], [.25, .75, 1.25, 1.75],
        [(-.017, "0"), (.978, "1"), (2.0, "2")], neg7_blue, neg7_edge, neg7_red, neg7_core)
volcano((637, 70, 1048, 478), (-2.75, 3.28), (-.18, 3.93), [-2, -1, 0, 1, 2, 3], [-2.5, -1.5, -.5, .5, 1.5, 2.5],
        lab([-2, 0, 2]), [0, 1, 2, 3], [.5, 1.5, 2.5, 3.5],
        [(-.02, "0"), (1.96, "2"), (3.9, "4")], neg14_blue, neg14_edge, neg14_red, neg14_core)
volcano((1102, 68, 1513, 478), (-5.19, 2.48), (-.195, 4.16), [-4, -2, 0, 2], [-5, -3, -1, 1],
        lab([-4, -2, 0, 2]), [0, 1, 2, 3, 4], [.5, 1.5, 2.5, 3.5],
        [(-.01, "0"), (1.98, "2"), (3.98, "4")], neg21_blue, neg21_edge, neg21_red, neg21_core)
volcano((170, 533, 582, 942), (-5.56, 5.36), (-.135, 2.88), [-5, -2.5, 0, 2.5, 5], [-3.75, -1.25, 1.25, 3.75],
        {-5: "-5", -2.5: "-2.5", 0: "0", 2.5: "2.5", 5: "5"}, [0, 1, 2], [.5, 1.5, 2.5],
        [(-.012, "0"), (1.156, "1"), (2.29, "2")], pos7_blue, pos7_edge, pos7_red, pos7_core)
volcano((637, 533, 1049, 942), (-5.03, 5.47), (-.232, 4.95), [-4, -2, 0, 2, 4], [-5, -3, -1, 1, 3, 5],
        lab([-4, -2, 0, 2, 4]), [0, 1, 2, 3, 4], [.5, 1.5, 2.5, 3.5, 4.5],
        [(-.02, "0"), (2.02, "2"), (4.04, "4")], pos14_blue, pos14_edge, pos14_red, pos14_core, None)
volcano((1101, 533, 1513, 942), (-3.99, 6.08), (-.254, 5.41), [-4, -2, 0, 2, 4, 6], [-3, -1, 1, 3, 5],
        lab([-4, -2, 0, 2, 4, 6]), [0, 1, 2, 3, 4, 5], [.5, 1.5, 2.5, 3.5, 4.5],
        [(0, "0"), (2.03, "2"), (4.0, "4")], pos21_blue, pos21_edge, pos21_red, pos21_core, pos21_red_block)


def leaves(node):
    return node if isinstance(node, int) else leaves(node[1]) + leaves(node[2])


def tree_segments(node, cursor, ceiling):
    """Return (position, height, segments, next cursor)."""
    if isinstance(node, int):
        if node == 1:
            return cursor + .5, 0.0, [], cursor + 1
        segs = []
        pos = cursor + node - .5
        h_now = 0.0
        step = min(ceiling * .8 / node, .05)
        for i in range(node - 2, -1, -1):
            here = cursor + i + .5
            h_new = h_now + step
            segs.append(("tip", [(0, here), (h_new, here)]))
            segs.append(("st", [(h_new, here), (h_new, pos)]))
            segs.append(("tip" if i == node - 2 else "st", [(h_now, pos), (h_new, pos)]))
            pos = (here + pos) / 2
            h_now = h_new
        return pos, h_now, segs, cursor + node
    h, a, b = node
    pa, ha, sa, c1 = tree_segments(a, cursor, h)
    pb, hb, sb, c2 = tree_segments(b, c1, h)
    segs = sa + sb + [("st", [(ha, pa), (h, pa)]), ("st", [(hb, pb), (h, pb)]), ("st", [(h, pa), (h, pb)])]
    return (pa + pb) / 2, h, segs, c2


def draw_dendro(ax, tree, horizontal, tip_colour):
    n = leaves(tree)
    _, _, segs, _ = tree_segments(tree, 0, 1.0)
    for kind, pts in segs:
        (h0, p0), (h1, p1) = pts
        col = tip_colour if kind == "tip" else "#1A1A1A"
        if horizontal:
            ax.plot([p0, p1], [h0, h1], color=col, lw=1.1, solid_capstyle="butt")
        else:
            ax.plot([h0, h1], [p0, p1], color=col, lw=1.1, solid_capstyle="butt")
    if horizontal:
        ax.set_xlim(0, n)
        ax.set_ylim(0, 1.0)
    else:
        ax.set_xlim(1.0, 0)
        ax.set_ylim(n, 0)
    ax.axis("off")


def heatmap(x0, x1, y0, y1, rows, col_tree, row_tree, groups, bar_top, dendro_top, dendro_left, cb, cb_labels, tip="#1A1A1A"):
    ax = px_axes(x0, y0, x1, y1)
    data = np.array([[int(c) for c in r] for r in rows])
    ax.imshow(data, cmap=heat_cmap, vmin=-.5, vmax=9.5, aspect="auto", interpolation="nearest")
    ax.axis("off")
    mid = (x0 + x1) / 2
    for (a, b), col in zip([(x0, mid), (mid, x1)], groups):
        g = px_axes(a, bar_top, b, bar_top + 10)
        g.add_patch(Rectangle((0, 0), 1, 1, color=col))
        g.axis("off")
    draw_dendro(px_axes(x0, dendro_top, x1, bar_top), col_tree, True, "#1A1A1A")
    draw_dendro(px_axes(dendro_left, y0, x0, y1), row_tree, False, tip)
    c = px_axes(cb, y0, cb + 14, y0 + 192)
    c.imshow(np.arange(29, -1, -1).reshape(-1, 1), cmap=bar_cmap, aspect="auto", interpolation="nearest")
    c.axis("off")
    lx = cb + 20
    for y, s in cb_labels:
        ftext(lx + (0 if s != "-2" else -1), y + 3, s, fontsize=18, ha="left")


heatmap(237, 552, 1133, 1503, heat_neg7, cols_neg7, rows_neg7, order_pink_first, 1120, 1052, 169, 558,
        [(1148, "2"), (1230, "0"), (1306, "-2")])
heatmap(712, 1027, 1133, 1503, heat_neg14, cols_neg14, rows_neg14, order_pink_first, 1120, 1052, 645, 1033,
        [(1148, "2"), (1229, "0"), (1307, "-2")])
heatmap(1192, 1508, 1133, 1503, heat_neg21, cols_neg21, rows_neg21, order_teal_first, 1120, 1052, 1125, 1514,
        [(1155, "2"), (1229, "0"), (1303, "-2")], tip="#8C8C8C")
heatmap(237, 552, 1607, 1977, heat_pos7, cols_pos7, rows_pos7, order_pink_first, 1593, 1525, 170, 558,
        [(1617, "2"), (1703, "0"), (1785, "-2")])
heatmap(712, 1027, 1607, 1977, heat_pos14, cols_pos14, rows_pos14, order_teal_first, 1593, 1525, 645, 1033,
        [(1624, "2"), (1704, "0"), (1778, "-2")])
heatmap(1192, 1508, 1607, 1977, heat_pos21, cols_pos21, rows_pos21, order_pink_first, 1593, 1525, 1125, 1514,
        [(1629, "2"), (1704, "0"), (1777, "-2")], tip="#8C8C8C")

# ---------- text ----------
ftext(28, 29, "A", family=SANS, fontsize=24)
ftext(28, 1045, "B", family=SANS, fontsize=24)
for x, s in [(376, "7 dpi"), (849, "14 dpi"), (1306, "21 dpi")]:
    ftext(x, 24, s, fontsize=21)
for x, y, s in [(66, 294, "NEG"), (63, 742, "POS"), (66, 1286, "NEG"), (65, 1770, "POS")]:
    ftext(x, y, s, fontsize=21)

for y, col, s in [(1512, TEAL, "Control group"), (1553, PINK, "Infected group")]:
    sw = px_axes(10, y - 9, 29, y + 9)
    sw.add_patch(Rectangle((0, 0), 1, 1, color=col))
    sw.axis("off")
    ftext(39, y + 3, s, fontsize=21.5, ha="left")

fig.savefig("out.png", dpi=100, facecolor="white")
